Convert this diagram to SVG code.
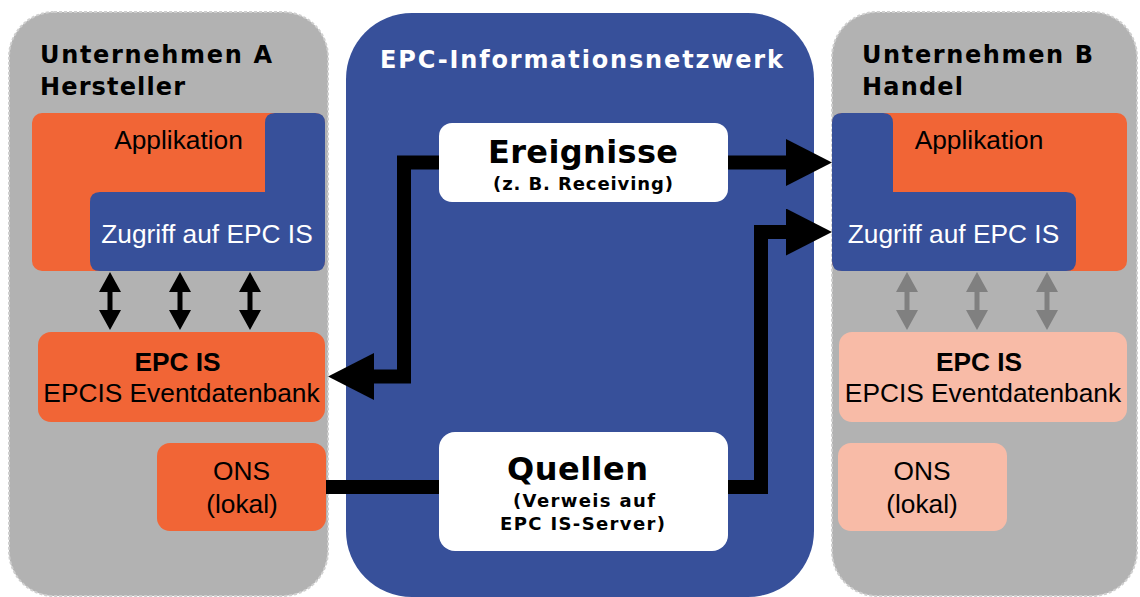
<svg xmlns="http://www.w3.org/2000/svg" width="1140" height="597" viewBox="0 0 1140 597">
<defs>
<style>
.panel{fill:#b2b2b2;stroke:#cfcfcf;stroke-width:2;stroke-dasharray:3 2}
.net{fill:#37509a}
.org{fill:#f16536}
.lt{fill:#f8bba7}
.blue{fill:#37509a}
.white{fill:#ffffff}
.h{font-family:"DejaVu Sans",Verdana,sans-serif;font-weight:bold}
.a{font-family:"Liberation Sans",Arial,sans-serif;font-size:26.3px;text-anchor:middle}
.b{font-weight:bold}
.wl{stroke:#000;stroke-width:14;fill:none;stroke-linejoin:miter}
</style>
<marker id="ah" markerUnits="userSpaceOnUse" markerWidth="47" markerHeight="47" viewBox="0 0 47 47" refX="0" refY="23.5" orient="auto">
<path d="M0,0 L46,23.5 L0,47 Z" fill="#000"/>
</marker>
<path id="dbl" d="M0,0 L11,20 L2.5,20 L2.5,38 L11,38 L0,58 L-11,38 L-2.5,38 L-2.5,20 L-11,20 Z"/>
</defs>

<g id="unternehmen-a">
<rect class="panel" x="9" y="12" width="319" height="584" rx="45"/>
<text class="h" x="40" y="63" font-size="24" textLength="232" lengthAdjust="spacing">Unternehmen A</text>
<text class="h" x="40" y="95" font-size="24" textLength="145" lengthAdjust="spacing">Hersteller</text>
</g>

<g id="netzwerk">
<rect class="net" x="346" y="13" width="468" height="584" rx="66"/>
<text class="h" x="380" y="68" font-size="24" fill="#fff" textLength="403" lengthAdjust="spacing">EPC-Informationsnetzwerk</text>
</g>

<g id="unternehmen-b">
<rect class="panel" x="832" y="12" width="305" height="584" rx="45"/>
<text class="h" x="862" y="63" font-size="24" textLength="231" lengthAdjust="spacing">Unternehmen B</text>
<text class="h" x="862" y="95" font-size="24" textLength="101" lengthAdjust="spacing">Handel</text>
</g>

<g id="app-a">
<rect class="org" x="32" y="113" width="293" height="158" rx="10"/>
<path class="blue" d="M275,113 H315 Q325,113 325,123 V261 Q325,271 315,271 H100 Q90,271 90,261 V202 Q90,192 100,192 H265 V123 Q265,113 275,113 Z"/>
<text class="a" x="178.5" y="149">Applikation</text>
<text class="a" x="207" y="243" fill="#fff">Zugriff auf EPC IS</text>
</g>

<g id="epcis-a">
<rect class="org" x="38" y="332" width="287" height="90" rx="13"/>
<text class="a b" x="177.5" y="371">EPC IS</text>
<text class="a" x="181.5" y="402">EPCIS Eventdatenbank</text>
</g>

<g id="ons-a">
<rect class="org" x="157" y="443" width="169" height="88" rx="13"/>
<text class="a" x="241.5" y="480">ONS</text>
<text class="a" x="242" y="513">(lokal)</text>
</g>

<g id="ereignisse">
<rect class="white" x="439" y="123" width="289" height="79" rx="13"/>
<text class="h" x="488" y="163" font-size="32" textLength="190" lengthAdjust="spacing">Ereignisse</text>
<text class="h" x="493" y="190" font-size="18" textLength="180" lengthAdjust="spacing">(z. B. Receiving)</text>
</g>

<g id="quellen">
<rect class="white" x="439" y="432" width="289" height="119" rx="16"/>
<text class="h" x="507" y="480" font-size="32" textLength="141" lengthAdjust="spacing">Quellen</text>
<text class="h" x="513" y="507" font-size="18" textLength="142" lengthAdjust="spacing">(Verweis auf</text>
<text class="h" x="500" y="530" font-size="18" textLength="165" lengthAdjust="spacing">EPC IS-Server)</text>
</g>

<g id="app-b">
<rect class="org" x="832" y="113" width="295" height="158" rx="10"/>
<path class="blue" d="M842,113 H883 Q893,113 893,123 V192 H1066 Q1076,192 1076,202 V261 Q1076,271 1066,271 H842 Q832,271 832,261 V123 Q832,113 842,113 Z"/>
<text class="a" x="979" y="149">Applikation</text>
<text class="a" x="953.5" y="243" fill="#fff">Zugriff auf EPC IS</text>
</g>

<g id="epcis-b">
<rect class="lt" x="839" y="332" width="288" height="90" rx="13"/>
<text class="a b" x="979" y="371">EPC IS</text>
<text class="a" x="983" y="402">EPCIS Eventdatenbank</text>
</g>

<g id="ons-b">
<rect class="lt" x="838" y="443" width="169" height="88" rx="13"/>
<text class="a" x="922" y="480">ONS</text>
<text class="a" x="922" y="513">(lokal)</text>
</g>

<g id="connectors">
<path class="wl" d="M439,162.5 H404 V376.5 H374" marker-end="url(#ah)"/>
<path class="wl" d="M728,162.5 H786" marker-end="url(#ah)"/>
<path class="wl" d="M728,487 H761 V232 H786" marker-end="url(#ah)"/>
<path class="wl" d="M326,487 H439"/>
<use href="#dbl" x="110" y="272" fill="#000"/>
<use href="#dbl" x="180" y="272" fill="#000"/>
<use href="#dbl" x="250" y="272" fill="#000"/>
<use href="#dbl" x="907" y="272" fill="#808080"/>
<use href="#dbl" x="977" y="272" fill="#808080"/>
<use href="#dbl" x="1047" y="272" fill="#808080"/>
</g>
</svg>
